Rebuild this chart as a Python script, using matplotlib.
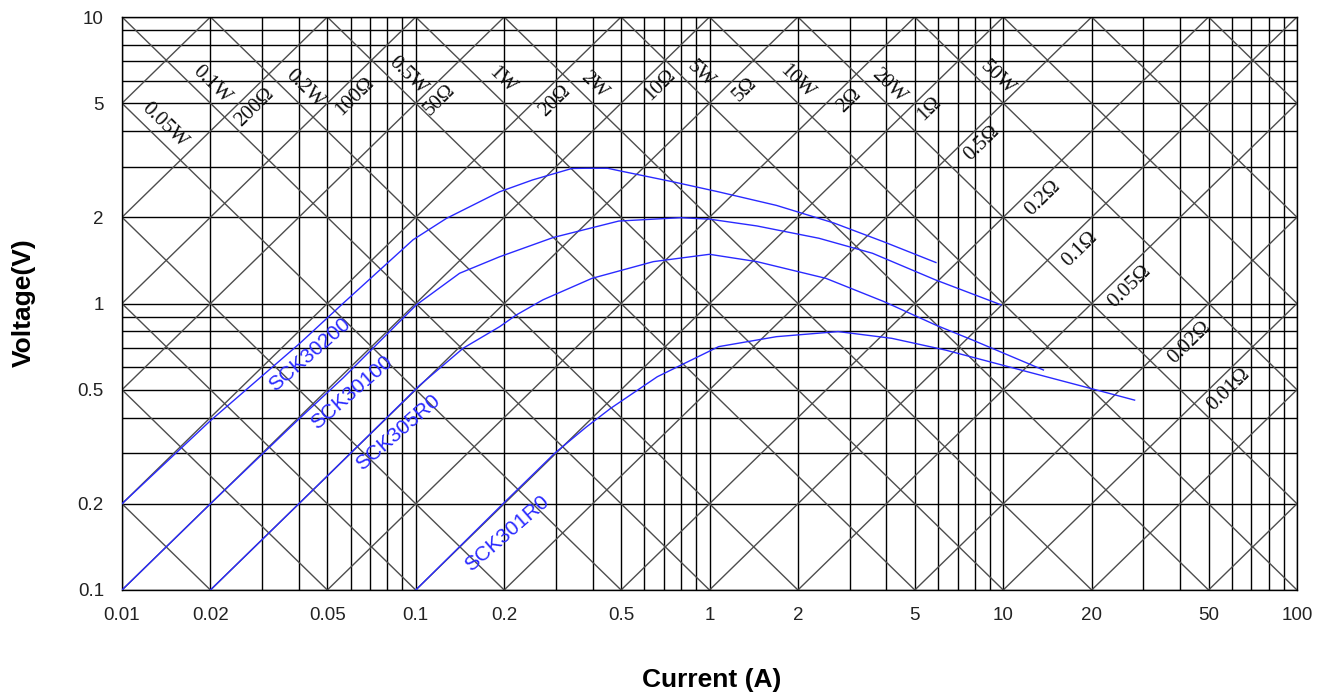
import numpy as np
import matplotlib
matplotlib.use('Agg')
import matplotlib.pyplot as plt
from matplotlib.ticker import FixedLocator, NullFormatter

# axis ticks
x_ticks = [0.01, 0.02, 0.05, 0.1, 0.2, 0.5, 1, 2, 5, 10, 20, 50, 100]
x_tick_labels = ['0.01', '0.02', '0.05', '0.1', '0.2', '0.5', '1', '2', '5', '10', '20', '50', '100']
y_ticks = [0.1, 0.2, 0.5, 1, 2, 5, 10]
y_tick_labels = ['0.1', '0.2', '0.5', '1', '2', '5', '10']

# diagonal guide lines (1-2-5 series)
guide_values = [0.001, 0.002, 0.005, 0.01, 0.02, 0.05, 0.1, 0.2, 0.5, 1, 2, 5,
                10, 20, 50, 100, 200, 500, 1000]

# labelled power lines: watts and current where the label sits
power_labels = [0.05, 0.1, 0.2, 0.5, 1, 2, 5, 10, 20, 50]
power_label_text = ['0.05W', '0.1W', '0.2W', '0.5W', '1W', '2W', '5W', '10W', '20W', '50W']
power_label_i = [0.014, 0.0202, 0.0419, 0.094, 0.196, 0.406, 0.93, 1.98, 4.09, 9.55]

# labelled resistance lines
res_labels = [200, 100, 50, 20, 10, 5, 2, 1, 0.5, 0.2, 0.1, 0.05, 0.02, 0.01]
res_label_text = ['200Ω', '100Ω', '50Ω', '20Ω', '10Ω', '5Ω', '2Ω', '1Ω', '0.5Ω',
                  '0.2Ω', '0.1Ω', '0.05Ω', '0.02Ω', '0.01Ω']
res_label_i = [0.0283, 0.0621, 0.1208, 0.299, 0.681, 1.315, 2.99, 5.6, 8.49,
               13.7, 18.2, 26.9, 43.0, 58.7]

# V-I curves
sck30200_i = [0.01, 0.02, 0.0403, 0.0565, 0.0755, 0.098, 0.127, 0.193, 0.25, 0.34,
              0.38, 0.45, 0.49, 0.75, 1.07, 1.69, 2.65, 3.93, 5.9]
sck30200_v = [0.2, 0.39, 0.726, 1.0, 1.31, 1.67, 1.98, 2.455, 2.7, 2.96,
              2.965, 2.965, 2.91, 2.66, 2.455, 2.2, 1.91, 1.64, 1.39]

sck30100_i = [0.01, 0.02, 0.04, 0.0566, 0.1005, 0.141, 0.193, 0.294, 0.491, 0.796,
              1.0, 1.45, 2.36, 3.59, 5.89, 9.84]
sck30100_v = [0.1, 0.2, 0.395, 0.55, 0.989, 1.275, 1.456, 1.70, 1.94, 1.993,
              1.97, 1.865, 1.689, 1.497, 1.208, 0.989]

sck305r0_i = [0.02, 0.05, 0.1033, 0.145, 0.193, 0.22, 0.271, 0.398, 0.644, 1.0,
              1.45, 2.49, 3.93, 5.89, 7.85, 13.7]
sck305r0_v = [0.1, 0.25, 0.519, 0.698, 0.83, 0.912, 1.03, 1.224, 1.40, 1.485,
              1.40, 1.224, 1.015, 0.841, 0.746, 0.586]

sck301r0_i = [0.1, 0.204, 0.297, 0.38, 0.46, 0.664, 1.074, 1.69, 2.74, 4.17,
              6.35, 14.7, 19.6, 28]
sck301r0_v = [0.1, 0.206, 0.30, 0.37, 0.43, 0.555, 0.707, 0.766, 0.798, 0.756,
              0.688, 0.548, 0.507, 0.46]

curves = [(sck30200_i, sck30200_v, 'SCK30200', 0.0436, 0.661),
          (sck30100_i, sck30100_v, 'SCK30100', 0.0606, 0.487),
          (sck305r0_i, sck305r0_v, 'SCK305R0', 0.0869, 0.356),
          (sck301r0_i, sck301r0_v, 'SCK301R0', 0.2047, 0.158)]

W, H = 1318, 695
fig = plt.figure(figsize=(W / 100, H / 100), dpi=100)
left, right, top, bottom = 122, 1297, 17, 590
ax = fig.add_axes([left / W, 1 - bottom / H, (right - left) / W, (bottom - top) / H])
ax.set_xscale('log')
ax.set_yscale('log')
ax.set_xlim(0.01, 100)
ax.set_ylim(0.1, 10)

# grid
minor_x = [m * 10.0 ** e for e in range(-2, 2) for m in range(1, 10)] + [100]
minor_y = [m * 10.0 ** e for e in range(-1, 1) for m in range(1, 10)] + [10]
ax.xaxis.set_minor_locator(FixedLocator(minor_x))
ax.yaxis.set_minor_locator(FixedLocator(minor_y))
ax.xaxis.set_minor_formatter(NullFormatter())
ax.yaxis.set_minor_formatter(NullFormatter())
ax.set_xticks(x_ticks)
ax.set_xticklabels(x_tick_labels)
ax.set_yticks(y_ticks)
ax.set_yticklabels(y_tick_labels)
ax.grid(True, which='both', color='black', linewidth=1.0)
ax.set_axisbelow(True)
ax.tick_params(which='both', length=0)
ax.tick_params(axis='x', pad=12, labelsize=13.5, labelcolor='#222222')
ax.tick_params(axis='y', pad=13, labelsize=13.5, labelcolor='#222222')
for lab in ax.get_xticklabels() + ax.get_yticklabels():
    lab.set_family('Liberation Sans')
for sp in ax.spines.values():
    sp.set_color('black')
    sp.set_linewidth(1.0)

# power and resistance diagonals
ii = np.logspace(-3, 3, 200)
for g in guide_values:
    ax.plot(ii, g / ii, color='#4d4d4d', linewidth=1.0, zorder=1)
    ax.plot(ii, g * ii, color='#4d4d4d', linewidth=1.0, zorder=1)

ang = np.degrees(np.arctan(((bottom - top) / 2) / ((right - left) / 4)))
off = 10 ** 0.07
for p, t, i in zip(power_labels, power_label_text, power_label_i):
    ax.text(i, p / i * off, t, rotation=-ang, ha='center', va='center',
            rotation_mode='anchor', family='Liberation Serif', fontsize=15,
            color='#111111')
for r, t, i in zip(res_labels, res_label_text, res_label_i):
    ax.text(i, r * i / off, t, rotation=ang, ha='center', va='center',
            rotation_mode='anchor', family='Liberation Serif', fontsize=15,
            color='#111111')

# thermistor curves
blue = '#2a2aff'
for ci, cv, name, lx, ly in curves:
    ax.plot(ci, cv, color=blue, linewidth=1.0, zorder=3)
    ax.text(lx, ly, name, rotation=41, ha='center', va='center',
            rotation_mode='anchor', family='Liberation Sans', fontsize=15,
            color=blue, zorder=4)

fig.text(712 / W, 1 - 680 / H, 'Current (A)', ha='center', va='center',
         family='Liberation Sans', fontweight='bold', fontsize=19)
fig.text(24 / W, 1 - 303 / H, 'Voltage(V)', ha='center', va='center', rotation=90,
         family='Liberation Sans', fontweight='bold', fontsize=19)

fig.savefig('out.png', dpi=100)
